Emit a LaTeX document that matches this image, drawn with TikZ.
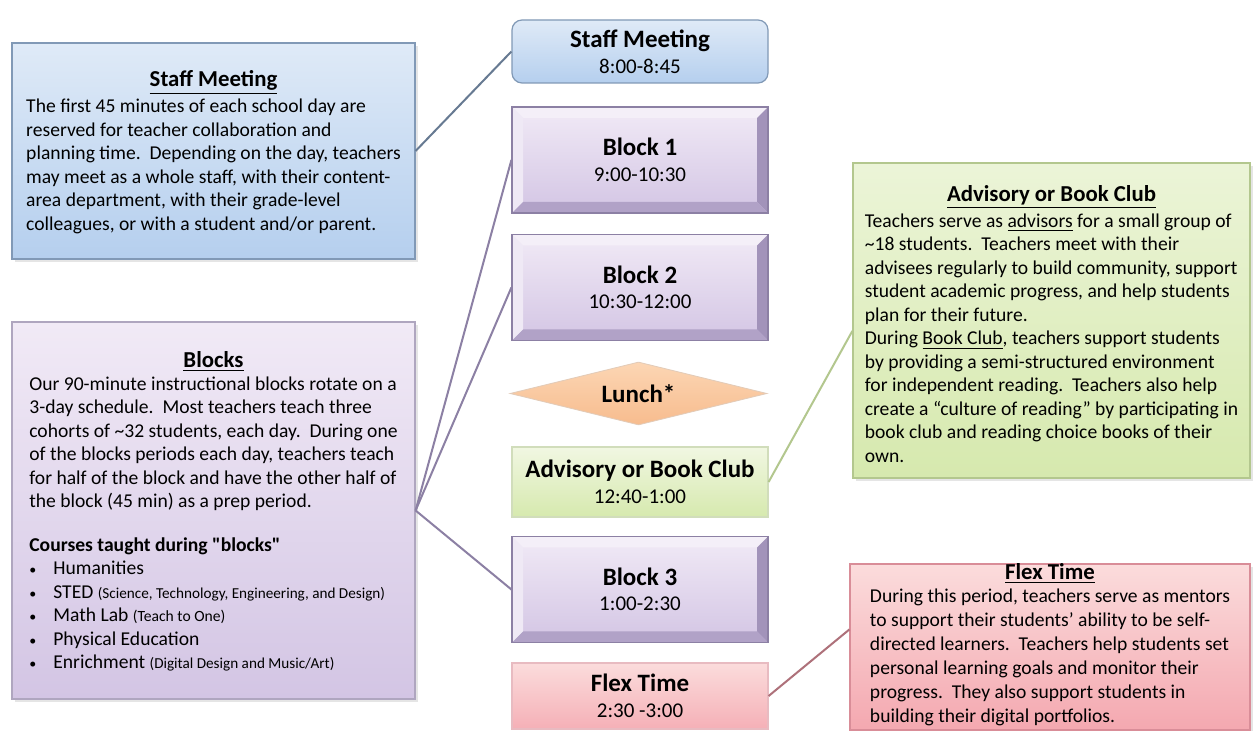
\documentclass[tikz,border=0pt]{standalone}
\usepackage{fontspec}
\setmainfont{Carlito}
\newfontfamily\plainquote{Carlito}
\usetikzlibrary{shapes.geometric,shadows}
\definecolor{staffhi}{HTML}{DFEAF7}
\definecolor{stafflo}{HTML}{B5CFEE}
\definecolor{staffedge}{HTML}{8199B6}
\definecolor{blockhi}{HTML}{F1EAF6}
\definecolor{blocklo}{HTML}{D3C5E4}
\definecolor{blockedge}{HTML}{8C80A4}
\definecolor{bevellight}{HTML}{F4EFF8}
\definecolor{beveldark}{HTML}{A293BA}
\definecolor{lunchhi}{HTML}{FCD6B4}
\definecolor{lunchlo}{HTML}{F7BC8E}
\definecolor{advhi}{HTML}{F1F7E2}
\definecolor{advlo}{HTML}{D6E9AE}
\definecolor{advedge}{HTML}{B3C78E}
\definecolor{flexhi}{HTML}{FBDCDC}
\definecolor{flexlo}{HTML}{F4A8B0}
\definecolor{flexedge}{HTML}{D98D98}
\tikzset{
  every note/.style={
    rectangle,
    draw,
    line width=0.6pt,
    inner sep=0pt,
    align=center,
    font=\fontsize{9.8}{11.75}\selectfont,
    drop shadow={opacity=0.2,shadow xshift=1.5pt,shadow yshift=-1.5pt}
  },
  staff note/.style={
    every note,
    draw=staffedge,
    top color=staffhi,
    bottom color=stafflo,
    minimum width=201.5pt,
    minimum height=108pt
  },
  block note/.style={
    every note,
    draw=blockedge!70,
    top color=blockhi,
    bottom color=blocklo,
    minimum width=201.5pt,
    minimum height=188.5pt
  },
  adv note/.style={
    every note,
    draw=advedge,
    top color=advhi!80!advlo,
    bottom color=advlo,
    minimum width=198.5pt,
    minimum height=157.5pt
  },
  flex note/.style={
    every note,
    draw=flexedge,
    top color=flexhi,
    bottom color=flexlo,
    minimum width=200pt,
    minimum height=82pt,
    font=\fontsize{9.8}{12}\selectfont
  },
  slot/.style={
    rectangle,
    line width=0.6pt,
    inner sep=0pt,
    align=center,
    minimum width=128pt,
    font=\fontsize{10.5}{12.8}\selectfont
  },
  staff slot/.style={
    slot,
    draw=staffedge,
    rounded corners=5pt,
    top color=staffhi,
    bottom color=stafflo,
    minimum height=31.5pt
  },
  bevel slot/.style={
    slot,
    draw=blockedge,
    top color=blockhi,
    bottom color=blocklo,
    minimum height=53pt,
    path picture={
      \fill[bevellight] (path picture bounding box.north west) -- (path picture bounding box.north east)
        -- ([shift={(-5.5pt,-5.5pt)}]path picture bounding box.north east)
        -- ([shift={(5.5pt,-5.5pt)}]path picture bounding box.north west) -- cycle;
      \fill[bevellight!85!blocklo] (path picture bounding box.north west) -- (path picture bounding box.south west)
        -- ([shift={(5.5pt,5.5pt)}]path picture bounding box.south west)
        -- ([shift={(5.5pt,-5.5pt)}]path picture bounding box.north west) -- cycle;
      \fill[beveldark] (path picture bounding box.north east) -- (path picture bounding box.south east)
        -- ([shift={(-5.5pt,5.5pt)}]path picture bounding box.south east)
        -- ([shift={(-5.5pt,-5.5pt)}]path picture bounding box.north east) -- cycle;
      \fill[beveldark!70!blocklo] (path picture bounding box.south west) -- (path picture bounding box.south east)
        -- ([shift={(-5.5pt,5.5pt)}]path picture bounding box.south east)
        -- ([shift={(5.5pt,5.5pt)}]path picture bounding box.south west) -- cycle;
    }
  },
  lunch slot/.style={
    diamond,
    draw=lunchlo!80!black!50,
    line width=0.4pt,
    top color=lunchhi,
    bottom color=lunchlo,
    inner sep=0pt,
    aspect=4,
    minimum width=128.5pt,
    minimum height=31.5pt,
    font=\fontsize{12.5}{15}\selectfont\bfseries
  },
  adv slot/.style={
    slot,
    draw=advedge!60,
    top color=advhi,
    bottom color=advlo,
    minimum height=35pt
  },
  flex slot/.style={
    slot,
    draw=flexedge!60,
    top color=flexhi,
    bottom color=flexlo!85!flexhi,
    minimum height=33pt
  },
  link/.style={line width=1pt}
}
\newcommand{\slottitle}[1]{{\fontsize{12.5}{12.8}\selectfont\bfseries #1}}
\newcommand{\notetitle}[2][0pt]{\rule{0pt}{#1}{\fontsize{11.4}{11.75}\selectfont\underline{\textbf{#2}}}}
\newcommand{\dotitem}{\makebox[12pt][l]{\fontsize{7}{7}\selectfont\textbullet}}

\begin{document}
\begin{tikzpicture}[x=0.5pt,y=-0.5pt]
    \useasboundingbox[fill=white] (0,0) rectangle (1253,731);
    \path{
      node[staff note] (staffnote) at (213.5,151) {\notetitle[11pt]{Staff Meeting}\\
        \begin{tabular}{@{}l@{}}
        The first 45 minutes of each school day are\\
        reserved for teacher collaboration and\\
        planning time.\ \ Depending on the day, teachers\\
        may meet as a whole staff, with their content-\\
        area department, with their grade-level\\
        colleagues, or with a student and/or parent.
        \end{tabular}}
      node[block note] (blocksnote) at (213.5,510.5) {\notetitle[11pt]{Blocks}\\
        \begin{tabular}{@{}l@{}}
        Our 90-minute instructional blocks rotate on a\\
        3-day schedule.\ \ Most teachers teach three\\
        cohorts of \textasciitilde32 students, each day.\ \ During one\\
        of the blocks periods each day, teachers teach\\
        for half of the block and have the other half of\\
        the block (45 min) as a prep period.\\[10pt]
        \textbf{Courses taught during {\plainquote "}blocks{\plainquote "}}\\
        \dotitem Humanities\\
        \dotitem STED {\fontsize{7.6}{8}\selectfont(Science, Technology, Engineering, and Design)}\\
        \dotitem Math Lab {\fontsize{7.8}{8}\selectfont(Teach to One)}\\
        \dotitem Physical Education\\
        \dotitem Enrichment {\fontsize{7.6}{8}\selectfont(Digital Design and Music/Art)}
        \end{tabular}}
      node[staff slot] (staffslot) at (640,51.5) {\slottitle{Staff Meeting}\\8:00-8:45}
      node[bevel slot] (block1) at (640,160) {\slottitle{Block 1}\\9:00-10:30}
      node[bevel slot] (block2) at (640,287.5) {\slottitle{Block 2}\\10:30-12:00}
      node[lunch slot] (lunch) at (638.5,393.5) {Lunch*}
      node[adv slot] (advslot) at (640,482) {\slottitle{Advisory or Book Club}\\12:40-1:00}
      node[bevel slot] (block3) at (640,589.5) {\slottitle{Block 3}\\1:00-2:30}
      node[flex slot] (flexslot) at (640,696) {\slottitle{Flex Time}\\2:30 -3:00}
      node[adv note] (advnote) at (1051.5,320.5) {\notetitle[15pt]{Advisory or Book Club}\\
        \begin{tabular}{@{}l@{}}
        Teachers serve as \underline{advisors} for a small group of\\
        \textasciitilde18 students.\ \ Teachers meet with their\\
        advisees regularly to build community, support\\
        student academic progress, and help students\\
        plan for their future.\\
        During \underline{Book Club}, teachers support students\\
        by providing a semi-structured environment\\
        for independent reading.\ \ Teachers also help\\
        create a ``culture of reading'' by participating in\\
        book club and reading choice books of their\\
        own.
        \end{tabular}}
      node[flex note] (flexnote) at (1050,647) {\notetitle{Flex Time}\\
        \begin{tabular}{@{}l@{}}
        During this period, teachers serve as mentors\\
        to support their students' ability to be self-\\
        directed learners.\ \ Teachers help students set\\
        personal learning goals and monitor their\\
        progress.\ \ They also support students in\\
        building their digital portfolios.
        \end{tabular}}
    };

    \path[draw,link]{
      (staffnote.east) edge[staffedge!80!black] (staffslot.west)
      (blocksnote.east) edge[blockedge] (block1.west)
      (blocksnote.east) edge[blockedge] (block2.west)
      (blocksnote.east) edge[blockedge] (block3.west)
      (advslot.east) edge[advedge] (advnote.183)
      (flexslot.east) edge[flexedge!80!black] (flexnote.175)
    };
  \end{tikzpicture}
\end{document}
